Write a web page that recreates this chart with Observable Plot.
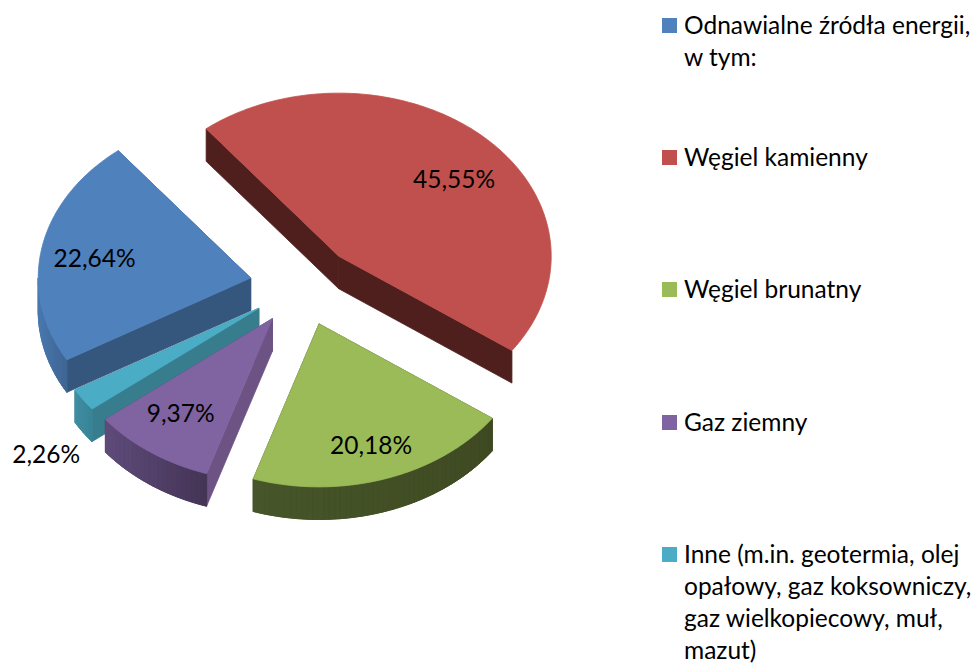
<!DOCTYPE html>
<html lang="pl">
<head>
<meta charset="utf-8">
<script src="https://cdn.jsdelivr.net/npm/d3@7"></script>
<script src="https://cdn.jsdelivr.net/npm/@observablehq/plot@0.6"></script>
<style>
html,body{margin:0;padding:0;background:#fff}
#wrap{position:relative;width:974px;height:663px;overflow:hidden}
#chart{position:absolute;left:0;top:0}
.lg{position:absolute;left:662px;width:312px;font:24.5px/20px Lato,sans-serif;color:#000}
.lg i{position:absolute;left:0;top:9px;width:15px;height:15px}
.lg div{position:absolute;left:22px;white-space:nowrap}
</style>
</head>
<body>
<div id="wrap"><div id="chart"></div></div>
<script>
// Values
const categories = ["Odnawialne źródła energii, w tym:", "Węgiel kamienny", "Węgiel brunatny", "Gaz ziemny", "Inne (m.in. geotermia, olej opałowy, gaz koksowniczy, gaz wielkopiecowy, muł, mazut)"];
const values = [22.64, 45.55, 20.18, 9.37, 2.26];
const valueLabels = ["22,64%", "45,55%", "20,18%", "9,37%", "2,26%"];
const legendLines = [["Odnawialne źródła energii,", "w tym:"], ["Węgiel kamienny"], ["Węgiel brunatny"], ["Gaz ziemny"], ["Inne (m.in. geotermia, olej", "opałowy, gaz koksowniczy,", "gaz wielkopiecowy, muł,", "mazut)"]];

// Styles
const topColors = ["#4F81BD", "#C0504D", "#9BBB59", "#8064A2", "#4BACC6"];
const startWallColors = ["#35567D", "#4F1F1D", "#414D24", "#6C5384", "#387D8E"];
const endWallColors = ["#35567D", "#4F1F1D", "#414D24", "#4A3A60", "#387D8E"];
const outerFrom = ["#4A78B0", "#5A2523", "#47562A", "#5F4B7B", "#3F8EA3"];
const outerTo = ["#3E6592", "#4F1F1D", "#3F4A22", "#443454", "#3A8396"];
const labelFracX = [0.748, 0.79, 0.78, 0.754, 1.21];
const labelFracY = [0.63, 0.64, 0.79, 0.716, 1.60];
const drawOrder = [1, 0, 2, 4, 3];

// Pie model: angles clockwise from 12 o'clock, in unit-circle coordinates
const startAngle = -120.1 * Math.PI / 180;
const explode = 0.248;
const depth = 0.2;   // thickness of the disc in radii
const cx = 302, cy = 285, rx = 212.5, ry = 163;

const arcs = d3.pie().sort(null).startAngle(startAngle).endAngle(startAngle + 2 * Math.PI)(values);
const slices = arcs.map((a, i) => {
  const mid = (a.startAngle + a.endAngle) / 2;
  return {i, a0: a.startAngle, a1: a.endAngle, mid, ax: explode * Math.sin(mid), ay: -explode * Math.cos(mid)};
});
const rim = (s, t, d = 0) => ({x: s.ax + Math.sin(t), y: s.ay - Math.cos(t) + d});

const walls = [];
const push = (arr, id, fill, pts) => pts.forEach(p => arr.push({id, fill, x: p.x, y: p.y}));

for (const k of drawOrder) {
  const s = slices[k];
  const apex = {x: s.ax, y: s.ay}, apexB = {x: s.ax, y: s.ay + depth};
  const face = (t, c, name) => push(walls, `${k}-${name}`, c, [apex, rim(s, t), rim(s, t, depth), apexB, apex]);
  const faces = [[s.a0, startWallColors[k], "s"], [s.a1, endWallColors[k], "e"]]
    .sort((p, q) => rim(s, p[0]).y - rim(s, q[0]).y);
  faces.forEach(f => face(f[0], f[1], f[2]));

  // outer curved wall: only its lower half can be seen; shaded by horizontal position
  const lo = Math.PI / 2, hi = 3 * Math.PI / 2;
  const norm = t => { let u = t; while (u < lo) u += 2 * Math.PI; return u; };
  const from = Math.max(norm(s.a0) > hi ? lo : norm(s.a0), lo);
  let to = norm(s.a1);
  if (to < from || to > hi) to = hi;
  if (norm(s.a0) < hi && to > from) {
    const color = d3.interpolateRgb(outerFrom[k], outerTo[k]);
    const xs = [rim(s, from).x, rim(s, to).x];
    const [xmin, xmax] = d3.extent(xs);
    const n = Math.max(2, Math.ceil((to - from) / (1.5 * Math.PI / 180)));
    // solid base under the shaded strips so no seams show
    const base = [];
    for (let j = 0; j <= n; j++) base.push(rim(s, from + (to - from) * j / n));
    for (let j = n; j >= 0; j--) base.push(rim(s, from + (to - from) * j / n, depth));
    base.push(base[0]);
    push(walls, `${k}-b`, color(0.5), base);
    for (let j = 0; j < n; j++) {
      const t0 = from + (to - from) * j / n, t1 = from + (to - from) * (j + 1) / n;
      const f = (rim(s, (t0 + t1) / 2).x - xmin) / (xmax - xmin);
      push(walls, `${k}-o${j}`, color(f), [rim(s, t0), rim(s, t1), rim(s, t1, depth), rim(s, t0, depth), rim(s, t0)]);
    }
  }
  // top surface
  const pts = [apex];
  const m = Math.ceil((s.a1 - s.a0) / (Math.PI / 180));
  for (let j = 0; j <= m; j++) pts.push(rim(s, s.a0 + (s.a1 - s.a0) * j / m));
  pts.push(apex);
  push(walls, `${k}-t`, topColors[k], pts);
}

const labels = slices.map(s => ({
  label: valueLabels[s.i],
  x: s.ax + labelFracX[s.i] * Math.sin(s.mid),
  y: s.ay - labelFracY[s.i] * Math.cos(s.mid)
}));

const plot = Plot.plot({
  width: 974, height: 663,
  margin: 0,
  style: {background: "#fff"},
  x: {domain: [-1, 1], range: [cx - rx, cx + rx], axis: null},
  y: {domain: [-1, 1], range: [cy - ry, cy + ry], axis: null},
  color: {type: "identity"},
  marks: [
    Plot.line(walls, {x: "x", y: "y", z: "id", fill: "fill", stroke: "fill", strokeWidth: 0.8, strokeLinecap: "butt", strokeLinejoin: "miter"}),
    Plot.text(labels, {x: "x", y: "y", text: "label", fontSize: 24.5, fontFamily: "Lato, sans-serif", fill: "#000"})
  ]
});
document.getElementById("chart").appendChild(plot);

// Legend, right of the pie
const wrap = document.getElementById("wrap");
legendLines.forEach((lines, i) => {
  const row = document.createElement("div");
  row.className = "lg";
  row.style.top = (9 + i * 132.2) + "px";
  const sw = document.createElement("i");
  sw.style.background = topColors[i];
  row.appendChild(sw);
  lines.forEach((t, j) => {
    const d = document.createElement("div");
    d.textContent = t;
    d.style.top = (6 + j * 32) + "px";
    row.appendChild(d);
  });
  wrap.appendChild(row);
});
</script>
</body>
</html>
